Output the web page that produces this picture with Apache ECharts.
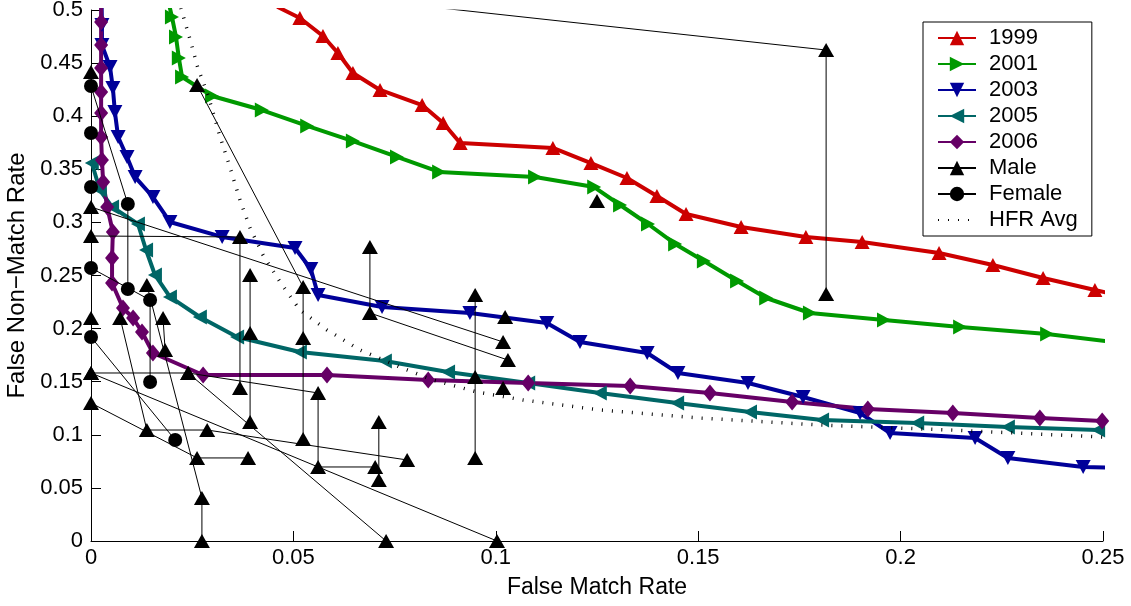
<!DOCTYPE html>
<html><head><meta charset="utf-8">
<script src="https://cdn.jsdelivr.net/npm/echarts@6/dist/echarts.min.js"></script>
<style>html,body{margin:0;padding:0;background:#fff}#c{width:1131px;height:606px}</style>
</head><body><div id="c"></div>
<script>
// ---- data (FMR, FNMR) ----
const legendNames = ['1999','2001','2003','2005','2006','Male','Female','HFR Avg'];
const xTicks = [0, 0.05, 0.1, 0.15, 0.2, 0.25];
const yTicks = [0, 0.05, 0.1, 0.15, 0.2, 0.25, 0.3, 0.35, 0.4, 0.45, 0.5];

const roc1999 = [[0.046,0.503],[0.0516,0.4925],[0.0573,0.4755],[0.0610,0.4595],[0.0647,0.4407],[0.0714,0.4247],[0.0818,0.4105],[0.0870,0.3936],[0.0912,0.3748],[0.1141,0.3701],[0.1235,0.3559],[0.1324,0.3418],[0.1398,0.3249],[0.1470,0.3079],[0.1606,0.2957],[0.1766,0.2863],[0.1905,0.2815],[0.2095,0.2712],[0.2228,0.2599],[0.2352,0.2476],[0.2480,0.2363],[0.262,0.225]];
const roc2001 = [[0.0190,0.510],[0.0200,0.4934],[0.0210,0.4746],[0.0217,0.4548],[0.0225,0.4369],[0.0299,0.4190],[0.0422,0.4058],[0.0534,0.3908],[0.0647,0.3766],[0.0756,0.3616],[0.0860,0.3475],[0.1097,0.3427],[0.1243,0.3333],[0.1307,0.3164],[0.1376,0.2985],[0.1443,0.2797],[0.1514,0.2637],[0.1596,0.2448],[0.1668,0.2288],[0.1776,0.2147],[0.1959,0.2081],[0.2147,0.2015],[0.2362,0.1949],[0.262,0.183]];
const roc2003 = [[0.0026,0.510],[0.0027,0.4859],[0.0027,0.4670],[0.0047,0.4463],[0.0054,0.4266],[0.0059,0.4040],[0.0067,0.3804],[0.0089,0.3616],[0.0109,0.3427],[0.0153,0.3239],[0.0195,0.3004],[0.0324,0.2863],[0.0504,0.2759],[0.0543,0.2561],[0.0561,0.2316],[0.0719,0.2203],[0.0936,0.2147],[0.1126,0.2053],[0.1208,0.1874],[0.1374,0.1770],[0.1450,0.1582],[0.1623,0.1488],[0.1759,0.1356],[0.1900,0.1205],[0.1974,0.1017],[0.2184,0.0970],[0.2265,0.0782],[0.2451,0.0697],[0.262,0.068]];
const roc2005 = [[0.0002,0.3559],[0.0022,0.3305],[0.0052,0.3145],[0.0116,0.2985],[0.0136,0.2740],[0.0158,0.2505],[0.0195,0.2298],[0.0269,0.2109],[0.0361,0.1921],[0.0516,0.1780],[0.0726,0.1695],[0.0882,0.1591],[0.1080,0.1488],[0.1257,0.1394],[0.1448,0.1299],[0.1628,0.1215],[0.1806,0.1139],[0.2041,0.1111],[0.2265,0.1073],[0.2488,0.1045]];
const roc2006 = [[0.0025,0.510],[0.0025,0.4887],[0.0025,0.4670],[0.0025,0.4454],[0.0025,0.4228],[0.0025,0.4030],[0.0025,0.3804],[0.0027,0.3588],[0.0030,0.3380],[0.0040,0.3145],[0.0054,0.2910],[0.0052,0.2665],[0.0052,0.2429],[0.0079,0.2194],[0.0104,0.2100],[0.0126,0.1968],[0.0153,0.1770],[0.0277,0.1563],[0.0583,0.1563],[0.0833,0.1516],[0.1080,0.1488],[0.1332,0.1460],[0.1529,0.1394],[0.1732,0.1309],[0.1919,0.1243],[0.2129,0.1205],[0.2344,0.1158],[0.2498,0.1130]];
const hfrAvg = [[0.0222,0.5019],[0.0245,0.4718],[0.0264,0.4454],[0.0289,0.4200],[0.0319,0.3804],[0.0343,0.3522],[0.0368,0.3211],[0.0393,0.2947],[0.0425,0.2693],[0.0467,0.2439],[0.0516,0.2175],[0.0583,0.1987],[0.0665,0.1798],[0.0763,0.1638],[0.0845,0.1516],[0.0954,0.1403],[0.1067,0.1328],[0.1257,0.1234],[0.1504,0.1158],[0.1801,0.1092],[0.2122,0.1045],[0.25,0.0979]];

const male1 = [[0.05,0.517],[0.1816,0.4623],[0.1816,0.2326]];
const male2 = [[0.1250,0.3202]];
const male3 = [[0.0262,0.4294],[0.0524,0.2392],[0.0524,0.1911],[0.0524,0.0960]];
const male4 = [[0,0.2872],[0.0368,0.2863],[0.0368,0.1441]];
const male5 = [[0,0.3145],[0.1018,0.1874]];
const male6 = [[0.0393,0.2505],[0.0393,0.1959],[0.0393,0.1121]];
const male7 = [[0.0689,0.2768],[0.0689,0.2147],[0.1030,0.1704]];
const male8 = [[0.0949,0.2316],[0.0949,0.1544],[0.0949,0.0782]];
const male9 = [[0.1023,0.2110]];
const male10 = [[0.1018,0.1441]];
const male11 = [[0,0.1582],[0.0240,0.1582],[0.0729,0]];
const male12 = [[0,0.1582],[0.1003,0]];
const male13 = [[0,0.1299],[0.0262,0.0782],[0.0388,0.0782]];
const male14 = [[0.0072,0.2100],[0.0138,0.1045],[0.0287,0.1045],[0.0781,0.0763]];
const male15 = [[0.0138,0.2411],[0.0274,0.0405],[0.0274,0]];
const male16 = [[0.0240,0.1582],[0.0561,0.1394],[0.0561,0.0697],[0.0702,0.0697]];
const male17 = [[0.0711,0.1121],[0.0711,0.0574]];
const male18 = [[0.0178,0.2100],[0.0183,0.1798]];
const male19 = [[0,0.4416]];
const male20 = [[0,0.2100]];

const female1 = [[0,0.4284],[0.0091,0.3173],[0.0091,0.2373]];
const female2 = [[0,0.3842]];
const female3 = [[0,0.3333]];
const female4 = [[0,0.2571],[0.0146,0.2269],[0.0146,0.1497]];
const female5 = [[0,0.1921],[0.0208,0.0951]];

const maleSets = [male1,male2,male3,male4,male5,male6,male7,male8,male9,male10,male11,male12,male13,male14,male15,male16,male17,male18,male19,male20];
const femaleSets = [female1,female2,female3,female4,female5];

// ---- chart ----
const FONT = '"Liberation Sans", Arial, Helvetica, sans-serif';
const SYM_DOWN = 'path://M0,0L10,0L5,9Z';
const SYM_RIGHT = 'path://M0,0L9,5L0,10Z';
const SYM_LEFT = 'path://M9,0L0,5L9,10Z';

function curve(name, data, color, symbol, size) {
  return {
    name, type: 'line', data, symbol, symbolSize: size, showAllSymbol: true,
    lineStyle: { color, width: 4 }, itemStyle: { color },
    emphasis: { disabled: true }, silent: true, clip: true, z: 3
  };
}
const series = [
  curve('1999', roc1999, '#cc0000', 'triangle', [15, 14]),
  curve('2001', roc2001, '#009900', SYM_RIGHT, [14, 15]),
  curve('2003', roc2003, '#000099', SYM_DOWN, [15, 14]),
  curve('2005', roc2005, '#006666', SYM_LEFT, [14, 15]),
  curve('2006', roc2006, '#660066', 'diamond', [14, 17]),
];
maleSets.forEach(d => series.push({
  name: 'Male', type: 'line', data: d, symbol: 'triangle', symbolSize: [16, 14], showAllSymbol: true,
  lineStyle: { color: '#000', width: 1 }, itemStyle: { color: '#000' },
  emphasis: { disabled: true }, silent: true, clip: true, z: 4
}));
femaleSets.forEach(d => series.push({
  name: 'Female', type: 'line', data: d, symbol: 'circle', symbolSize: 14, showAllSymbol: true,
  lineStyle: { color: '#000', width: 1 }, itemStyle: { color: '#000' },
  emphasis: { disabled: true }, silent: true, clip: true, z: 4
}));
series.push({
  name: 'HFR Avg', type: 'line', data: hfrAvg, symbol: 'none',
  lineStyle: { color: '#000', width: 3.5, type: [1, 9], cap: 'butt' },
  itemStyle: { color: '#000' }, emphasis: { disabled: true }, silent: true, clip: true, z: 5
});

const legendData = legendNames.map(n => n === 'HFR Avg'
  ? { name: n, itemStyle: { opacity: 0, borderWidth: 0 } }
  : { name: n });

const chart = echarts.init(document.getElementById('c'), null, { renderer: 'canvas' });
chart.setOption({
  animation: false,
  backgroundColor: '#fff',
  textStyle: { fontFamily: FONT },
  grid: { left: 91, right: 28, top: 10, bottom: 65, containLabel: false, outerBoundsMode: 'none' },
  xAxis: {
    type: 'value', min: xTicks[0], max: xTicks[xTicks.length - 1], interval: 0.05,
    name: 'False Match Rate', nameLocation: 'middle', nameGap: 35,
    nameTextStyle: { fontSize: 23, color: '#000', fontFamily: FONT },
    axisLine: { show: true, onZero: false, lineStyle: { color: '#000', width: 1 } },
    axisTick: { show: true, inside: true, length: 10, lineStyle: { color: '#000' } },
    axisLabel: { fontSize: 22, color: '#000', margin: 6, fontFamily: FONT },
    splitLine: { show: false }
  },
  yAxis: {
    type: 'value', min: yTicks[0], max: yTicks[yTicks.length - 1], interval: 0.05,
    name: 'False Non\u2212Match Rate', nameLocation: 'middle', nameGap: 62,
    nameTextStyle: { fontSize: 24, color: '#000', fontFamily: FONT },
    axisLine: { show: true, onZero: false, lineStyle: { color: '#000', width: 1 } },
    axisTick: { show: true, inside: true, length: 10, lineStyle: { color: '#000' } },
    axisLabel: { fontSize: 22, color: '#000', margin: 8, fontFamily: FONT },
    splitLine: { show: false }
  },
  legend: {
    data: legendData, orient: 'vertical', left: 923, top: 22,
    backgroundColor: '#fff', borderColor: '#000', borderWidth: 1,
    padding: [5, 14, 5, 14], itemWidth: 38, itemHeight: 18, itemGap: 4,
    textStyle: { fontSize: 22, color: '#000', fontFamily: FONT, padding: [0, 0, 0, 8] },
    selectedMode: false
  },
  series
});
</script></body></html>
